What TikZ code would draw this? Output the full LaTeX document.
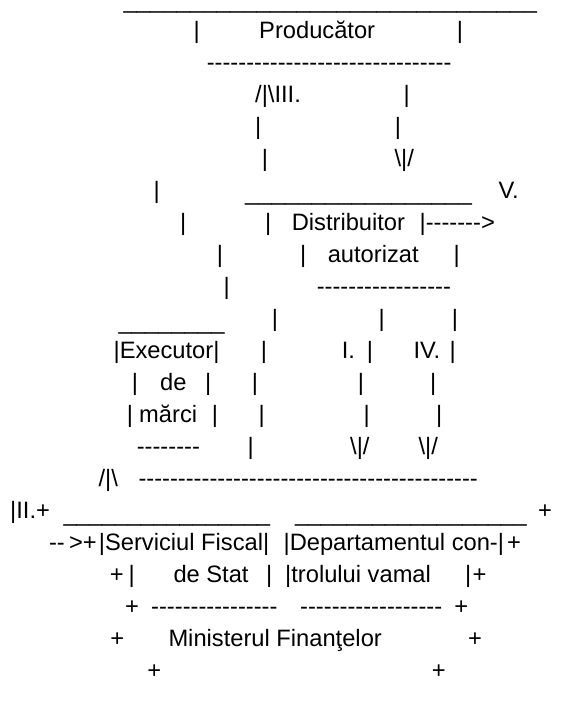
\documentclass[tikz,border=0pt]{standalone}
\usepackage{fontspec}
\usepackage{graphicx}
\setmainfont{Liberation Sans}[Ligatures=TeXOff]
\ExplSyntaxOn
\newcommand\Rep[2]{\prg_replicate:nn{#1}{#2}}
\ExplSyntaxOff
\tikzset{txt/.style={font=\fontsize{23.7}{28}\selectfont, inner sep=0pt, outer sep=0pt}}
\newcommand\Lw[4]{\node[txt,anchor=base west] (#1) at ({#2-1.5},{6.3+32.02*#3}) {#4};}
\newcommand\Lu[4]{\node[txt,anchor=base west] (#1) at ({#2-1.5},{8.8+32.02*#3}) {#4};}
\newcommand\Lc[4]{\node[txt,anchor=base] (#1) at ({#2},{6.3+32.02*#3}) {#4};}
\newcommand\Lb[4]{\node[txt,anchor=base west] (#1) at ({#2-3.1},{6.3+32.02*#3}) {#4};}
\begin{document}
\begin{tikzpicture}[x=1pt,y=-1pt]
\fill[white] (0,0) rectangle (572,702);
\useasboundingbox (0,0) rectangle (572,702);
\Lu{a0}{125}{0}{\scalebox{1.012}[1]{\Rep{31}{\_}}}
\Lc{a1}{196.7}{1}{|}
\Lw{prod}{260.7}{1}{Producător}
\Lc{a2}{460}{1}{|}
\Lw{b0}{208.3}{2}{\Rep{31}{-}}
\Lw{c0}{256.7}{3}{/|\textbackslash III.}
\Lc{c1}{406.7}{3}{|}
\Lc{d0}{258.3}{4}{|}
\Lc{d1}{398}{4}{|}
\Lc{e0}{265}{5}{|}
\Lw{e1}{396}{5}{\textbackslash|/}
\Lc{f0}{156.7}{6}{|}
\Lu{f1}{246.7}{6}{\scalebox{1.012}[1]{\Rep{17}{\_}}}
\Lw{f2}{500}{6}{V.}
\Lc{g0}{183.3}{7}{|}
\Lc{g1}{268.3}{7}{|}
\Lw{distr}{293.3}{7}{Distribuitor}
\Lb{g2}{422.7}{7}{|\Rep{7}{-}>}
\Lc{h0}{220}{8}{|}
\Lc{h1}{303.3}{8}{|}
\Lw{h2}{329.3}{8}{autorizat}
\Lc{h3}{456.7}{8}{|}
\Lc{i0}{226.7}{9}{|}
\Lw{i1}{318.3}{9}{\Rep{17}{-}}
\Lu{j0}{120}{10}{\scalebox{1.006}[1]{\Rep{8}{\_}}}
\Lc{j1}{275}{10}{|}
\Lc{j2}{381.7}{10}{|}
\Lc{j3}{455}{10}{|}
\Lb{exec}{116.7}{11}{|Executor|}
\Lc{k1}{264}{11}{|}
\Lw{k2}{343.3}{11}{I.}
\Lc{k3}{370}{11}{|}
\Lw{k4}{415}{11}{IV.}
\Lc{k5}{452.7}{11}{|}
\Lc{l0}{135}{12}{|}
\Lw{l1}{161.7}{12}{de}
\Lc{l2}{208.3}{12}{|}
\Lc{l3}{255}{12}{|}
\Lc{l4}{361}{12}{|}
\Lc{l5}{433.3}{12}{|}
\Lc{m0}{130}{13}{|}
\Lw{m1}{140.7}{13}{mărci}
\Lc{m2}{215}{13}{|}
\Lc{m3}{261.7}{13}{|}
\Lc{m4}{366.7}{13}{|}
\Lc{m5}{439.3}{13}{|}
\Lw{n0}{138.3}{14}{\Rep{8}{-}}
\Lc{n1}{250.7}{14}{|}
\Lw{n2}{351.7}{14}{\textbackslash|/}
\Lw{n3}{420}{14}{\textbackslash|/}
\Lw{o0}{100}{15}{/|\textbackslash}
\Lw{o1}{140}{15}{\Rep{43}{-}}
\Lb{p0}{13.3}{16}{|II.+}
\Lu{p1}{65}{16}{\scalebox{0.98}[1]{\Rep{16}{\_}}}
\Lu{p2}{296.7}{16}{\scalebox{0.976}[1]{\Rep{18}{\_}}}
\Lc{p3}{545}{16}{+}
\Lw{q0}{50.5}{17}{--}
\Lw{q1}{70.5}{17}{>+}
\Lb{svc}{102}{17}{|Serviciul Fiscal|}
\Lb{dep}{286.7}{17}{|Departamentul con-|}
\Lc{q4}{514}{17}{+}
\Lc{r0}{116.7}{18}{+}
\Lc{r1}{131.7}{18}{|}
\Lw{r2}{175}{18}{de Stat}
\Lc{r3}{269.3}{18}{|}
\Lb{r4}{288.3}{18}{|trolului vamal}
\Lc{r5}{468.3}{18}{|}
\Lc{r6}{479.5}{18}{+}
\Lc{s0}{132}{19}{+}
\Lw{s1}{152.7}{19}{\Rep{16}{-}}
\Lw{s2}{301.7}{19}{\Rep{18}{-}}
\Lc{s3}{461.3}{19}{+}
\Lc{t0}{117.2}{20}{+}
\Lw{minf}{170}{20}{Ministerul Finanţelor}
\Lc{t1}{475}{20}{+}
\Lc{u0}{154.3}{21}{+}
\Lc{u1}{438.7}{21}{+}
\end{tikzpicture}
\end{document}
